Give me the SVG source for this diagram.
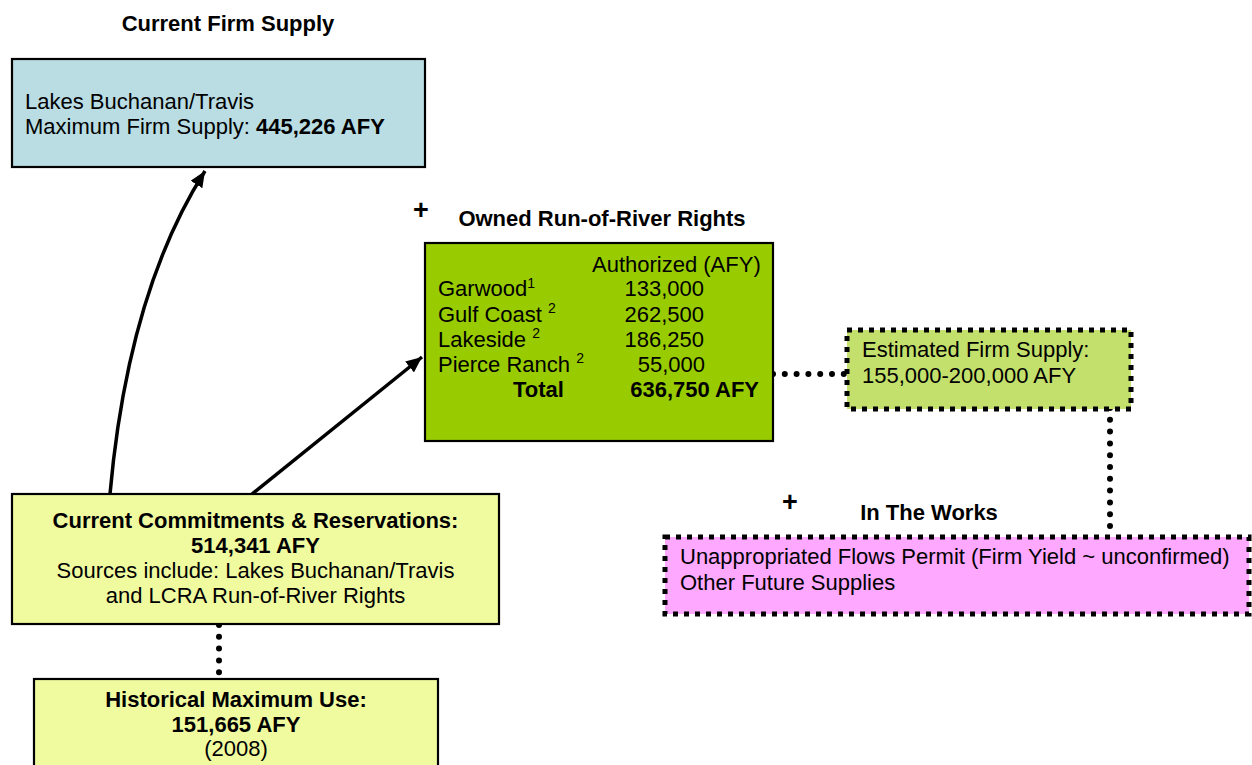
<svg xmlns="http://www.w3.org/2000/svg" width="1252" height="765" viewBox="0 0 1252 765">
<style>
text{font-family:"Liberation Sans",Arial,sans-serif;font-size:22px;fill:#000}
.b{font-weight:bold}
.c{text-anchor:middle}
.r{text-anchor:end}
.plus{font-size:27px;font-weight:bold;text-anchor:middle}
.sup{font-size:14px}
.box{stroke:#000;stroke-width:2.2}
.dbox{stroke:#000;stroke-width:5;stroke-dasharray:5 6}
.arrow{fill:none;stroke:#000;stroke-width:3.5}
.dots{fill:none;stroke:#000;stroke-width:6;stroke-linecap:round;stroke-dasharray:0 11.8}
</style>
<defs>
<marker id="ah" markerUnits="userSpaceOnUse" markerWidth="17" markerHeight="14" refX="16" refY="7" orient="auto">
<path d="M0,0 L16,7 L0,14 z" fill="#000"/>
</marker>
</defs>
<rect width="1252" height="765" fill="#fff"/>

<g id="connectors">
<path class="arrow" d="M110,494 Q128,292 205,171" marker-end="url(#ah)"/>
<path class="arrow" d="M252,494 L422,357" marker-end="url(#ah)"/>
<path class="dots" d="M773,374 L846,374"/>
<path class="dots" d="M1110,408 L1110,537"/>
<path class="dots" d="M219,625 L219,679"/>
</g>

<g id="current-firm-supply">
<text class="b c" x="228" y="31">Current Firm Supply</text>
<rect class="box" x="12" y="59" width="413" height="108" fill="#b9dde3"/>
<text x="25" y="109">Lakes Buchanan/Travis</text>
<text x="25" y="134">Maximum Firm Supply: <tspan class="b">445,226 AFY</tspan></text>
</g>

<g id="owned-run-of-river">
<text class="plus" x="421" y="219">+</text>
<text class="b c" x="602" y="226">Owned Run-of-River Rights</text>
<rect class="box" x="425" y="243" width="348" height="198" fill="#99cc00"/>
<text x="592" y="271.5">Authorized (AFY)</text>
<text x="438" y="296">Garwood<tspan class="sup" dy="-8.5">1</tspan></text>
<text x="438" y="321.5">Gulf Coast <tspan class="sup" dy="-8.5">2</tspan></text>
<text x="438" y="346.5">Lakeside <tspan class="sup" dy="-8.5">2</tspan></text>
<text x="438" y="371.5">Pierce Ranch <tspan class="sup" dy="-8.5">2</tspan></text>
<text class="r" x="704" y="296">133,000</text>
<text class="r" x="704" y="321.5">262,500</text>
<text class="r" x="704" y="346.5">186,250</text>
<text class="r" x="705" y="371.5">55,000</text>
<text class="b" x="513" y="396.5">Total</text>
<text class="b r" x="759" y="396.5">636,750 AFY</text>
</g>

<g id="estimated-firm-supply">
<rect class="dbox" x="847" y="330" width="284" height="79" fill="#c4e06c"/>
<text x="862" y="357">Estimated Firm Supply:</text>
<text x="862" y="383">155,000-200,000 AFY</text>
</g>

<g id="in-the-works">
<text class="plus" x="790" y="511">+</text>
<text class="b c" x="929" y="520">In The Works</text>
<rect class="dbox" x="665" y="537" width="584" height="77" fill="#ffa8ff"/>
<text x="680" y="564">Unappropriated Flows Permit (Firm Yield ~ unconfirmed)</text>
<text x="680" y="590">Other Future Supplies</text>
</g>

<g id="current-commitments">
<rect class="box" x="12" y="494" width="487" height="130" fill="#f0fba0"/>
<text class="b c" x="255.5" y="528">Current Commitments &amp; Reservations:</text>
<text class="b c" x="255.5" y="553">514,341 AFY</text>
<text class="c" x="255.5" y="578">Sources include: Lakes Buchanan/Travis</text>
<text class="c" x="255.5" y="603">and LCRA Run-of-River Rights</text>
</g>

<g id="historical-maximum">
<rect class="box" x="34" y="679" width="404" height="110" fill="#f0fba0"/>
<text class="b c" x="236" y="707">Historical Maximum Use:</text>
<text class="b c" x="236" y="731.5">151,665 AFY</text>
<text class="c" x="236" y="756">(2008)</text>
</g>
</svg>
